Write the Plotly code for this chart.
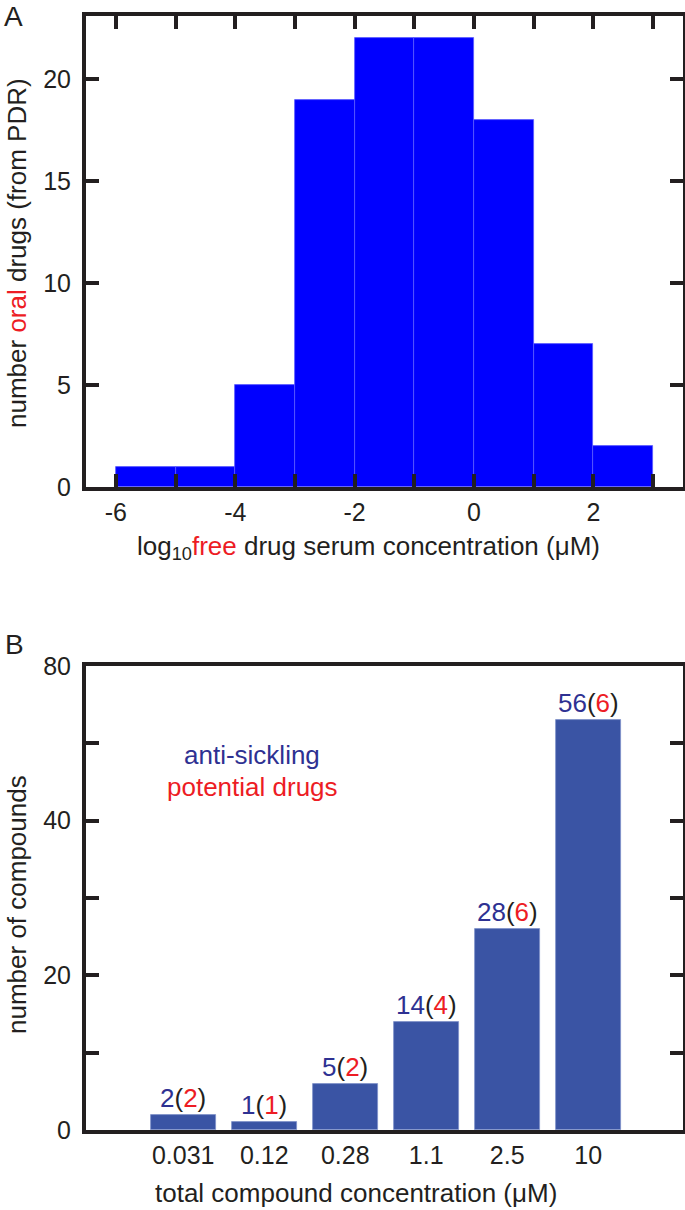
import plotly.graph_objects as go

# ---------------- data ----------------
# Panel A: histogram of log10 free drug serum concentration
bin_edges = [-6, -5, -4, -3, -2, -1, 0, 1, 2, 3]
drug_counts = [1, 1, 5, 19, 22, 22, 18, 7, 2]
xa_tickvals = [-6, -4, -2, 0, 2]
xa_ticktext = ["-6", "-4", "-2", "0", "2"]
xa_minor = [-5, -3, -1, 1, 3]
ya_tickvals = [0, 5, 10, 15, 20]

# Panel B: number of compounds per total compound concentration
conc_labels = ["0.031", "0.12", "0.28", "1.1", "2.5", "10"]
bar_heights = [2, 1, 6, 14, 26, 53]
anti_sickling = [2, 1, 5, 14, 28, 56]
potential_drugs = [2, 1, 2, 4, 6, 6]
yb_tickvals = [0, 20, 40, 60]
yb_ticktext = ["0", "20", "40", "80"]
yb_minor = [10, 30, 50]

# ---------------- style ----------------
W, H = 685, 1210
ML, MR, MT, MB = 86, 2, 16, 80
PW, PH = W - ML - MR, H - MT - MB
INK = "#231f20"
NAVY = "#2e3192"
RED = "#ed1c24"
FONT = "Liberation Sans, Arial, Helvetica, sans-serif"
FS = 26
TL, TW = 13, 3.5


def px(p):
    return (p - ML) / PW


def py(p):
    return (H - MB - p) / PH


centers = [(bin_edges[i] + bin_edges[i + 1]) / 2 for i in range(len(drug_counts))]
xpos_b = list(range(1, len(conc_labels) + 1))

fig = go.Figure()
fig.add_trace(go.Bar(
    x=centers, y=drug_counts, width=1.0,
    marker=dict(color="#0000ff", line=dict(color="#5a5aff", width=0.8)),
    xaxis="x", yaxis="y", showlegend=False, hoverinfo="x+y",
))
fig.add_trace(go.Bar(
    x=xpos_b, y=bar_heights, width=0.8,
    marker=dict(color="#3a54a4", line=dict(color="#7d8fc8", width=0.8)),
    xaxis="x2", yaxis="y2", showlegend=False, hoverinfo="y",
))

axis_common = dict(
    showline=True, linewidth=4, linecolor=INK,
    ticks="inside", ticklen=TL, tickwidth=TW, tickcolor=INK,
    showgrid=False, zeroline=False, automargin=False,
    tickfont=dict(family=FONT, size=25, color=INK),
)


def minor(vals):
    return dict(tickvals=vals, ticks="inside", ticklen=TL, tickwidth=TW,
                tickcolor=INK, showgrid=False)


fig.update_layout(
    width=W, height=H,
    margin=dict(l=ML, r=MR, t=MT, b=MB),
    paper_bgcolor="white", plot_bgcolor="white",
    font=dict(family=FONT, size=FS, color=INK),
    bargap=0,
    xaxis=dict(domain=[0, 1], anchor="y", range=[-6.5, 3.5],
               tickmode="array", tickvals=xa_tickvals, ticktext=xa_ticktext,
               minor=minor(xa_minor),
               mirror="ticks", ticklabelstandoff=0, **axis_common),
    yaxis=dict(domain=[py(487), 1], anchor="x", range=[0, 23.1],
               tickmode="array", tickvals=ya_tickvals,
               mirror="ticks", ticklabelstandoff=6, **axis_common),
    xaxis2=dict(domain=[0, 1], anchor="y2", range=[-0.2, 7.17],
                tickmode="array", tickvals=xpos_b, ticktext=conc_labels,
                mirror=True, ticklabelstandoff=0,
                **{**axis_common, "ticks": ""}),
    xaxis3=dict(overlaying="x2", anchor="y2", side="top", range=[-0.2, 7.17],
                tickmode="array", tickvals=xpos_b, showticklabels=False,
                **{**axis_common, "showline": False}),
    yaxis2=dict(domain=[0, py(666)], anchor="x2", range=[0, 60],
                tickmode="array", tickvals=yb_tickvals, ticktext=yb_ticktext,
                minor=minor(yb_minor),
                mirror="ticks", ticklabelstandoff=6, **axis_common),
)

annotations = [
    dict(text="A", x=px(13), y=py(17), font=dict(size=28)),
    dict(text="B", x=px(14), y=py(644), font=dict(size=28)),
    dict(text=f"number <span style='color:{RED}'>oral</span> drugs (from PDR)",
         x=px(17), y=py(253), textangle=-90),
    dict(text=f"log<sub>10</sub><span style='color:{RED}'>free</span> drug serum concentration (\u03bcM)",
         x=px(368), y=py(547)),
    dict(text="number of compounds", x=px(17), y=py(905), textangle=-90),
    dict(text="total compound concentration (\u03bcM)", x=px(356), y=py(1193)),
]
for a in annotations:
    a.update(xref="paper", yref="paper", showarrow=False,
             xanchor="center", yanchor="middle")
    a.setdefault("font", dict(size=FS))
    a["font"] = dict(family=FONT, color=INK, **a["font"])

annotations += [
    dict(text="anti-sickling", x=1.85, y=48.5, xref="x2", yref="y2", showarrow=False,
         font=dict(family=FONT, size=FS, color=NAVY)),
    dict(text="potential drugs", x=1.85, y=44.4, xref="x2", yref="y2", showarrow=False,
         font=dict(family=FONT, size=FS, color=RED)),
]
for xi, h, a_n, p_n in zip(xpos_b, bar_heights, anti_sickling, potential_drugs):
    annotations.append(dict(
        text=f"<span style='color:{NAVY}'>{a_n}</span>(<span style='color:{RED}'>{p_n}</span>)",
        x=xi, y=h, xref="x2", yref="y2", showarrow=False,
        yanchor="bottom", yshift=0,
        font=dict(family=FONT, size=26, color=INK),
    ))

fig.update_layout(annotations=annotations)
fig.write_html(
    "out.html",
    config={"displayModeBar": False},
    post_script="document.body.style.margin='0px';document.body.style.overflow='hidden';",
)
